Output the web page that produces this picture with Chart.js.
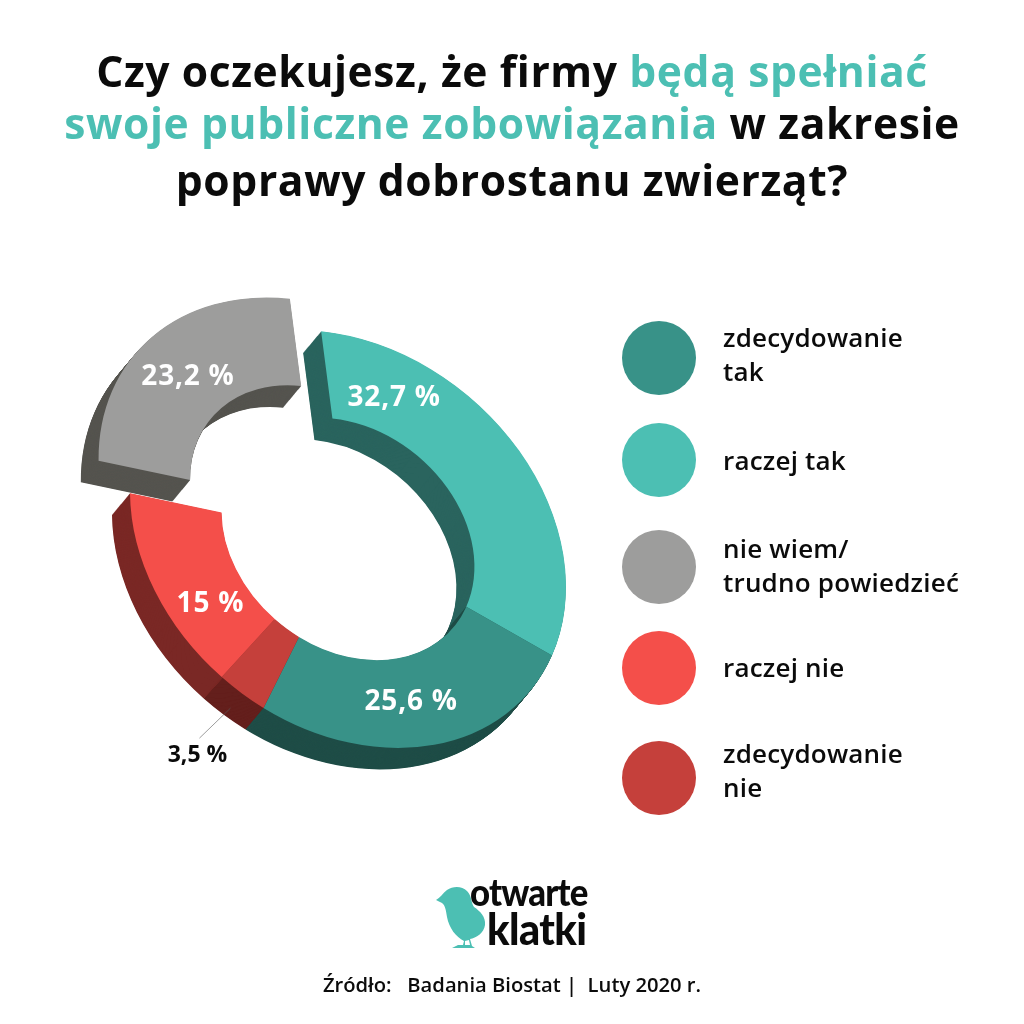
<!DOCTYPE html>
<html lang="pl">
<head>
<meta charset="utf-8">
<title>Czy oczekujesz</title>
<script src="https://cdn.jsdelivr.net/npm/chart.js@4"></script>
<style>
html,body{margin:0;padding:0;background:#fff;width:1024px;height:1024px;overflow:hidden}
body{position:relative;font-family:"Open Sans",sans-serif;color:#0b0b0b}
#c{position:absolute;left:0;top:0}
.t{position:absolute;left:0;width:1024px;text-align:center;white-space:pre;font-weight:700;font-size:42.6px;line-height:52px;letter-spacing:.6px;color:#0b0b0b}
.t span{color:#4cbfb3}
.dot{position:absolute;width:74px;height:74px;border-radius:50%}
.lg{position:absolute;left:723px;font-weight:600;font-size:26px;line-height:34px;white-space:pre;color:#0b0b0b;letter-spacing:.2px}
#src{position:absolute;left:0;width:1024px;top:971px;text-align:center;white-space:pre;font-weight:600;font-size:20.2px;line-height:26px}
.lo{position:absolute;font-family:Lato,sans-serif;font-weight:900;white-space:pre;color:#0b0b0b;transform-origin:0 50%}
</style>
</head>
<body>
<canvas id="c" width="1024" height="1024"></canvas>
<div class="t" style="top:44px">Czy oczekujesz, że firmy <span>będą spełniać</span></div>
<div class="t" style="top:96px"><span>swoje publiczne zobowiązania</span> w zakresie</div>
<div class="t" style="top:153px">poprawy dobrostanu zwierząt?</div>
<div id="legend"></div>
<svg style="position:absolute;left:430px;top:880px" width="70" height="75" viewBox="430 880 70 75">
<path fill="#4cbfb3" d="M436 900 C440 898 443 893 447 890 C453 886 462 886 467 891 C472 896 471 903 474 907 C480 911 486 917 485 925 C484 933 476 938 470 939 L472 946 L475 948 L452 948 L458 945 L463 945 L464 941 C456 937 449 928 447 917 C446 910 445 905 442 903 Z"/>
<path fill="#fff" d="M465 941 L469 940 L470 945 L465 945 Z"/>
</svg>
<div class="lo" style="left:470px;top:870px;font-size:38px;line-height:42px;letter-spacing:-.9px;transform:scaleX(.915)">otwarte</div>
<div class="lo" style="left:487px;top:905px;font-size:44px;line-height:46px;letter-spacing:-.6px;transform:scaleX(.94)">klatki</div>
<div id="src">Źródło:   Badania Biostat |  Luty 2020 r.</div>
<script>
// Legend order
const legendLabels = ["zdecydowanie\ntak", "raczej tak", "nie wiem/\ntrudno powiedzieć", "raczej nie", "zdecydowanie\nnie"];
const legendColors = ["#389288", "#4cbfb3", "#9d9d9c", "#f44f4a", "#c5403b"];
// Slices, drawn clockwise
const categories = ["nie wiem/trudno powiedzieć", "raczej tak", "zdecydowanie tak", "zdecydowanie nie", "raczej nie"];
const values = [23.2, 32.7, 25.6, 3.5, 15];
const valueLabels = ["23,2 %", "32,7 %", "25,6 %", "3,5 %", "15 %"];
const faceColors = ["#9d9d9c", "#4cbfb3", "#389288", "#c5403b", "#f44f4a"];
const sideColors = ["#55544f", "#2a645e", "#1f4d47", "#641f1c", "#7a2825"];
const explode = [152, 0, 0, 0, 0];
const labelAlong = [0.495, 0.194, 0.516, 0.52, 0.344];

// legend
const legendEl = document.getElementById('legend');
const dotY = [358, 460, 567, 668, 778];
legendLabels.forEach((txt, i) => {
  const d = document.createElement('div');
  d.className = 'dot';
  d.style.cssText = `left:622px;top:${dotY[i]-37}px;background:${legendColors[i]}`;
  legendEl.appendChild(d);
  const n = txt.split('\n').length;
  const l = document.createElement('div');
  l.className = 'lg';
  l.textContent = txt;
  const cy = [354, 460, 565, 667, 770][i];
  l.style.top = (cy - n * 17) + 'px';
  legendEl.appendChild(l);
});

// view of the ring
const R = 200, CX = 348, CY = 539;
const M = {a: 218 / R, b: 48 / R, c: 0, d: 203.4 / R};
const DEPTH = {x: -18, y: 21.5};
function applyView(ctx, x, y) {
  ctx.translate(CX, CY);
  ctx.transform(M.a, M.b, M.c, M.d, 0, 0);
  ctx.translate(-x, -y);
}
function toScreen(el, along, rf) {
  const ang = el.startAngle + (el.endAngle - el.startAngle) * along;
  const off = (el.options.offset || 0) / 4, half = (el.startAngle + el.endAngle) / 2;
  const px = Math.cos(ang) * el.outerRadius * rf + Math.cos(half) * off;
  const py = Math.sin(ang) * el.outerRadius * rf + Math.sin(half) * off;
  return {x: CX + M.a * px + M.c * py, y: CY + M.b * px + M.d * py};
}
const ringView = {
  id: 'ringView',
  beforeDatasetsDraw(chart) {
    const ctx = chart.ctx, arcs = chart.getDatasetMeta(0).data;
    arcs.forEach((el, i) => {
      const off = (el.options.offset || 0) / 4, half = (el.startAngle + el.endAngle) / 2;
      const ox = el.x + Math.cos(half) * off, oy = el.y + Math.sin(half) * off;
      ctx.fillStyle = sideColors[i];
      const N = 44;
      for (let k = N; k >= 1; k--) {
        ctx.save();
        ctx.translate(DEPTH.x * k / N, DEPTH.y * k / N);
        applyView(ctx, el.x, el.y);
        ctx.beginPath();
        ctx.arc(ox, oy, el.outerRadius, el.startAngle, el.endAngle);
        ctx.arc(ox, oy, el.innerRadius, el.endAngle, el.startAngle, true);
        ctx.closePath();
        ctx.fill();
        ctx.restore();
      }
    });
    ctx.save();
    applyView(ctx, arcs[0].x, arcs[0].y);
  },
  afterDatasetsDraw(chart) {
    const ctx = chart.ctx, arcs = chart.getDatasetMeta(0).data;
    ctx.restore();
    ctx.textAlign = 'center';
    ctx.textBaseline = 'middle';
    arcs.forEach((el, i) => {
      if (values[i] < 5) {
        const s = toScreen(el, labelAlong[i], 1.1);
        ctx.strokeStyle = 'rgba(90,90,90,.75)';
        ctx.lineWidth = 0.8;
        ctx.beginPath();
        ctx.moveTo(s.x, s.y);
        ctx.lineTo(s.x - 31, s.y + 30);
        ctx.stroke();
        ctx.fillStyle = '#0b0b0b';
        ctx.font = '700 23px "Open Sans", sans-serif';
        ctx.fillText(valueLabels[i], s.x - 33, s.y + 47);
      } else {
        const s = toScreen(el, labelAlong[i], 0.78);
        ctx.fillStyle = '#ffffff';
        ctx.font = '700 28px "Open Sans", sans-serif';
        ctx.letterSpacing = '0.8px';
        ctx.fillText(valueLabels[i], s.x, s.y + 2);
        ctx.letterSpacing = '0px';
      }
    });
  }
};

new Chart(document.getElementById('c'), {
  type: 'doughnut',
  data: {
    labels: categories,
    datasets: [{
      data: values,
      backgroundColor: faceColors,
      borderWidth: 0,
      offset: explode,
      hoverOffset: 0,
      clip: false
    }]
  },
  options: {
    responsive: false,
    animation: false,
    events: [],
    radius: R,
    cutout: '58%',
    rotation: 269.4,
    layout: {padding: 0},
    plugins: {legend: {display: false}, tooltip: {enabled: false}, title: {display: false}}
  },
  plugins: [ringView]
});
</script>
</body>
</html>
